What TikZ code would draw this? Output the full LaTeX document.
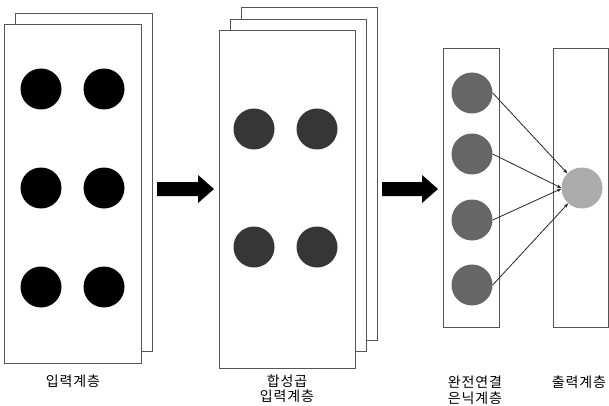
\documentclass[tikz,border=0pt]{standalone}
\usepackage{fontspec}
\setmainfont{Noto Sans CJK KR}[LetterSpace=6]
\usetikzlibrary{arrows.meta}
\definecolor{convgray}{HTML}{363636}
\definecolor{hidgray}{HTML}{666666}
\definecolor{outgray}{HTML}{ABABAB}
\definecolor{edgegray}{HTML}{555555}
\begin{document}
\begin{tikzpicture}[x=1pt,y=-1pt,
  sheet/.style={draw=edgegray,line width=1pt,fill=white},
  unit/.style={circle,minimum size=41pt,inner sep=0pt},
  inunit/.style={unit,fill=black},
  convunit/.style={unit,fill=convgray},
  hidunit/.style={unit,fill=hidgray},
  outunit/.style={unit,fill=outgray},
  link/.style={draw=black!85,line width=0.8pt,-{Stealth[length=4.5pt,width=3.5pt]}},
  blockarrow/.style={fill=black},
  lbl/.style={font=\fontsize{14}{16}\selectfont,inner sep=0pt}
]
\useasboundingbox (0,0) rectangle (609,406);
\fill[white] (0,0) rectangle (609,406);

% input layer sheets
\draw[sheet] (15,14) rectangle (152,351);
\draw[sheet] (4,25) rectangle (141,363);
\foreach \r/\y in {1/89,2/188,3/287}{
  \node[inunit] (i\r a) at (41,\y) {};
  \node[inunit] (i\r b) at (104,\y) {};
}
\node[lbl] (l1) at (73,381) {입력계층};

% arrow 1
\fill[blockarrow] (157,182) -- (198,182) -- (198,175) -- (214,189) -- (198,203) -- (198,196) -- (157,196) -- cycle;

% conv sheets
\draw[sheet] (241,8) rectangle (377,340);
\draw[sheet] (230,20) rectangle (366,351);
\draw[sheet] (219,31) rectangle (355,368);
\foreach \r/\y in {1/129,2/247}{
  \node[convunit] (c\r a) at (254,\y) {};
  \node[convunit] (c\r b) at (317,\y) {};
}
\node[lbl] (l2a) at (287,381) {합성곱};
\node[lbl] (l2b) at (287,396) {입력계층};

% arrow 2
\fill[blockarrow] (382,182) -- (422,182) -- (422,175) -- (438,189) -- (422,203) -- (422,196) -- (382,196) -- cycle;

% hidden layer
\draw[sheet] (443,49) rectangle (499,327);
\foreach \k/\y in {1/93,2/154,3/220,4/285}{
  \node[hidunit] (h\k) at (472,\y) {};
}
\node[lbl] (l3a) at (475,382) {완전연결};
\node[lbl] (l3b) at (475,398) {은닉계층};

% output layer
\draw[sheet] (553,49) rectangle (608,327);
\node[outunit] (o) at (582,188) {};
\node[lbl] (l4) at (579,382) {출력계층};

% connections
\draw[link] (h1.east) -- (o.135);
\draw[link] (h2.east) -- (o.180);
\draw[link] (h3.east) -- (o.182);
\draw[link] (h4.east) -- (o.228);
\end{tikzpicture}
\end{document}
